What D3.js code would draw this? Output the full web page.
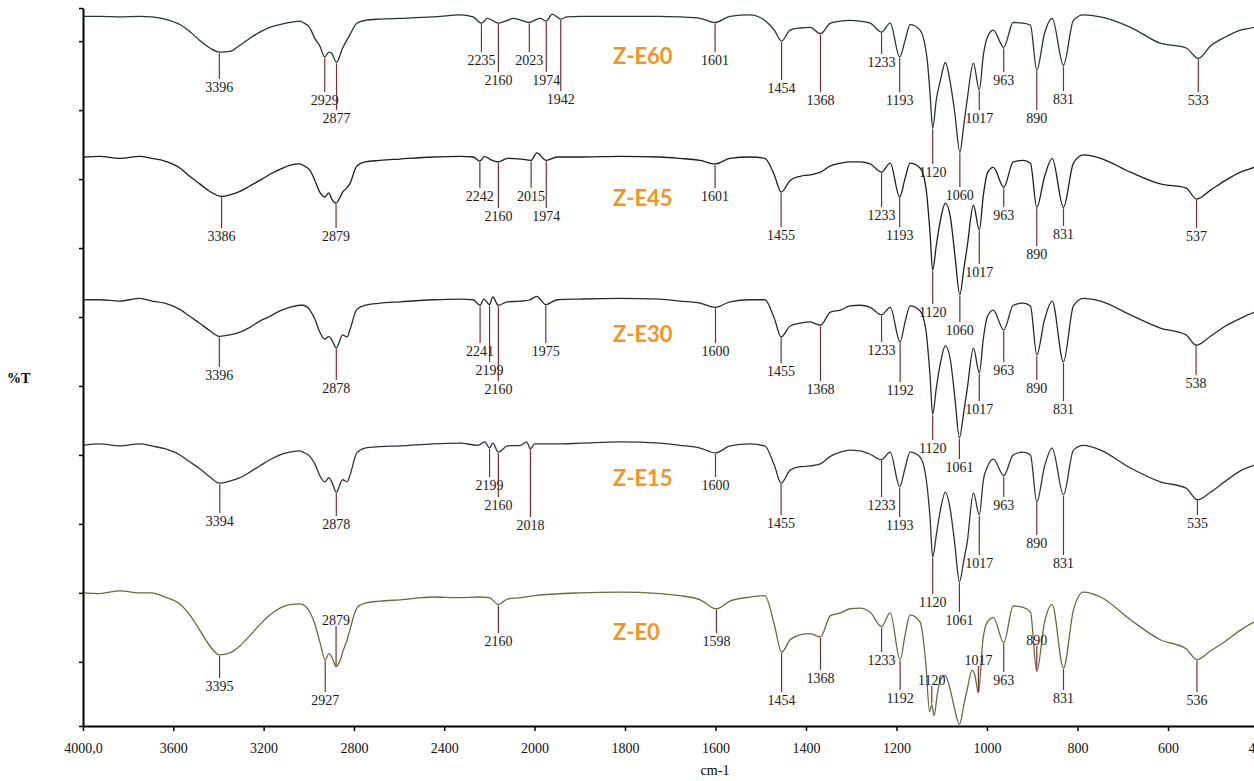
<!DOCTYPE html>
<html>
<head>
<meta charset="utf-8">
<script src="https://cdn.jsdelivr.net/npm/d3@7/dist/d3.min.js"></script>
<style>
  body { margin: 0; background: #fff; }
  svg { display: block; }
</style>
</head>
<body>
<script>

// FTIR spectra, [wavenumber cm-1, %T (stacked, arbitrary offset)]
var specE60 = [[4000,93.6],[3926,93.6],[3837,93.5],[3749,93.6],[3695,93.5],[3638,93.2],[3571,92.4],[3527,91.4],[3483,90.1],[3438,89.0],[3396,88.4],[3350,88.5],[3305,89.4],[3261,90.4],[3217,91.3],[3172,92.0],[3128,92.4],[3084,92.7],[3039,92.9],[3026,92.7],[2995,91.9],[2973,90.4],[2951,89.3],[2929,87.7],[2911,88.4],[2898,88.2],[2877,86.9],[2850,89.0],[2818,90.9],[2787,92.6],[2751,93.0],[2685,93.2],[2596,93.3],[2450,93.5],[2330,93.8],[2272,93.5],[2235,92.6],[2208,93.3],[2160,92.6],[2120,93.0],[2094,93.3],[2023,92.7],[1988,93.3],[1974,92.9],[1961,93.9],[1942,93.2],[1928,93.5],[1899,93.6],[1811,93.6],[1723,93.6],[1679,93.5],[1634,93.3],[1601,92.7],[1568,93.6],[1524,93.8],[1491,93.0],[1470,91.6],[1454,90.0],[1435,91.6],[1413,91.9],[1391,92.0],[1368,91.1],[1346,92.6],[1324,92.9],[1303,93.0],[1281,92.9],[1258,92.6],[1233,91.3],[1214,92.6],[1193,87.7],[1181,90.1],[1170,92.4],[1148,91.6],[1132,87.2],[1126,82.5],[1120,77.4],[1112,81.5],[1103,84.3],[1092,86.9],[1081,83.9],[1071,79.5],[1060,73.9],[1051,78.0],[1044,81.4],[1030,86.8],[1017,82.9],[1008,88.0],[999,90.6],[986,91.6],[963,89.1],[942,92.7],[920,92.6],[904,92.3],[890,85.8],[873,91.1],[856,93.3],[831,86.5],[809,93.0],[787,93.8],[749,93.5],[683,92.0],[617,89.7],[560,89.0],[533,87.5],[506,89.3],[473,90.6],[440,91.6],[409,92.0],[400,92.2]];

var specE45 = [[4000,73.2],[3926,73.3],[3837,73.0],[3749,73.3],[3695,73.0],[3638,72.6],[3571,71.6],[3527,70.4],[3483,69.3],[3438,68.2],[3386,67.5],[3350,67.7],[3305,68.2],[3261,69.0],[3217,69.8],[3172,70.7],[3128,71.4],[3084,72.0],[3039,72.2],[3026,72.0],[2995,71.3],[2973,69.8],[2951,68.1],[2929,67.4],[2911,68.0],[2898,67.1],[2879,66.5],[2850,68.1],[2818,69.3],[2787,71.9],[2751,72.5],[2685,72.7],[2596,72.9],[2450,73.2],[2330,73.3],[2272,73.2],[2242,72.6],[2220,73.3],[2199,72.9],[2160,72.5],[2120,73.0],[2060,72.9],[2015,72.7],[1995,73.8],[1974,72.7],[1950,73.2],[1899,73.2],[1811,73.3],[1723,73.2],[1679,73.0],[1634,72.7],[1601,72.2],[1568,73.0],[1524,73.2],[1491,73.0],[1470,70.6],[1455,68.1],[1435,69.8],[1413,70.4],[1391,70.6],[1368,71.0],[1346,71.9],[1324,72.3],[1303,72.5],[1281,72.5],[1258,72.2],[1233,71.0],[1214,72.3],[1193,67.4],[1181,70.1],[1170,72.3],[1148,71.6],[1135,68.8],[1126,62.3],[1120,56.8],[1112,60.4],[1103,64.0],[1092,66.5],[1081,64.5],[1071,59.0],[1060,53.2],[1051,57.1],[1044,60.1],[1030,66.2],[1017,62.6],[1008,67.7],[999,70.9],[986,71.7],[963,68.8],[942,72.5],[920,72.7],[904,72.3],[890,65.9],[873,70.3],[856,73.0],[831,65.9],[809,72.3],[787,73.5],[749,73.0],[683,71.0],[617,69.3],[560,68.7],[537,67.1],[506,68.4],[473,69.8],[440,71.0],[409,71.7],[400,71.9]];

var specE30 = [[4000,52.5],[3926,52.5],[3837,52.3],[3749,52.7],[3695,52.3],[3638,52.0],[3571,51.1],[3527,50.1],[3483,49.1],[3438,48.0],[3396,47.2],[3350,47.4],[3305,47.8],[3261,48.5],[3217,49.4],[3172,50.1],[3128,50.9],[3084,51.4],[3039,51.7],[3026,51.7],[2995,51.0],[2973,49.7],[2951,47.8],[2929,46.8],[2911,47.2],[2898,46.7],[2878,45.5],[2850,47.4],[2830,47.1],[2818,48.1],[2787,51.1],[2751,51.7],[2685,52.0],[2596,52.2],[2450,52.5],[2330,52.6],[2272,52.5],[2241,51.7],[2225,52.6],[2199,51.8],[2185,52.9],[2160,51.7],[2120,52.2],[2060,52.3],[2020,52.5],[1995,53.0],[1975,51.8],[1950,52.5],[1899,52.6],[1811,52.7],[1723,52.6],[1679,52.3],[1634,52.0],[1600,51.4],[1568,52.2],[1524,52.5],[1491,52.5],[1470,49.8],[1455,47.1],[1435,48.7],[1413,49.1],[1391,49.3],[1368,48.8],[1346,50.7],[1324,51.0],[1303,51.6],[1281,51.7],[1258,51.4],[1233,50.3],[1214,51.4],[1192,46.4],[1181,49.3],[1170,51.6],[1148,50.9],[1135,48.1],[1126,41.6],[1120,35.9],[1112,39.7],[1103,43.3],[1092,45.8],[1081,43.8],[1071,38.3],[1061,32.5],[1051,36.4],[1044,39.4],[1030,45.5],[1017,41.9],[1008,46.9],[999,50.1],[986,51.0],[963,48.1],[942,51.7],[920,52.0],[904,51.6],[890,44.5],[873,49.6],[856,52.3],[831,43.5],[809,51.6],[787,52.7],[749,52.3],[683,50.3],[617,48.4],[560,47.4],[538,45.9],[506,47.2],[473,48.7],[440,49.8],[409,50.7],[400,50.9]];

var specE15 = [[4000,31.4],[3926,31.6],[3837,31.3],[3749,31.6],[3695,31.3],[3638,30.9],[3571,30.0],[3527,29.0],[3483,28.0],[3438,26.8],[3394,25.9],[3350,26.2],[3305,26.7],[3261,27.5],[3217,28.4],[3172,29.3],[3128,30.0],[3084,30.4],[3039,30.6],[3026,30.4],[2995,29.8],[2973,28.7],[2951,27.0],[2929,26.1],[2911,26.7],[2898,26.1],[2878,24.6],[2850,26.4],[2830,26.1],[2818,27.0],[2787,30.3],[2751,31.0],[2685,31.2],[2596,31.3],[2450,31.6],[2330,31.7],[2250,31.4],[2220,31.9],[2199,31.0],[2185,31.7],[2160,30.4],[2120,31.3],[2060,31.4],[2035,31.9],[2018,30.9],[2000,31.6],[1950,31.6],[1899,31.7],[1811,31.9],[1723,31.7],[1679,31.4],[1634,31.0],[1600,30.3],[1568,31.3],[1524,31.6],[1491,31.3],[1470,28.5],[1455,25.9],[1435,27.8],[1413,28.3],[1391,28.4],[1368,28.7],[1346,29.8],[1324,30.4],[1303,30.7],[1281,30.6],[1258,30.1],[1233,29.3],[1214,30.4],[1193,25.4],[1181,28.1],[1170,30.4],[1148,29.7],[1135,26.8],[1126,21.0],[1120,15.2],[1112,18.4],[1103,22.0],[1092,24.6],[1081,22.0],[1071,17.0],[1061,11.6],[1051,14.8],[1044,17.2],[1030,24.5],[1017,21.3],[1008,26.4],[999,28.3],[986,29.4],[963,27.0],[942,30.0],[920,30.4],[904,30.0],[890,23.2],[873,28.3],[856,31.0],[831,24.2],[809,30.7],[787,31.4],[749,30.7],[683,28.1],[617,26.1],[560,25.2],[535,23.5],[506,24.6],[473,26.2],[440,27.7],[409,28.5],[400,28.7]];

var specE0 = [[4000,10.0],[3926,9.9],[3837,10.3],[3749,10.0],[3695,10.0],[3638,9.4],[3571,8.4],[3527,6.8],[3483,4.6],[3438,2.3],[3395,1.0],[3350,1.3],[3305,2.3],[3261,3.8],[3217,5.4],[3172,6.8],[3128,7.8],[3084,8.3],[3039,8.4],[3026,8.3],[2995,7.2],[2973,5.5],[2951,2.9],[2927,0.3],[2911,1.2],[2898,0.7],[2879,-0.7],[2860,0.3],[2850,1.4],[2830,3.2],[2818,4.6],[2787,7.8],[2751,8.5],[2685,8.8],[2596,9.0],[2450,9.4],[2330,9.3],[2250,9.4],[2200,9.3],[2160,8.3],[2120,9.1],[2060,9.3],[2000,9.6],[1899,10.0],[1811,10.1],[1723,9.9],[1679,9.6],[1634,9.0],[1598,7.7],[1568,8.8],[1524,9.4],[1491,9.6],[1470,5.4],[1454,1.4],[1435,3.2],[1413,3.9],[1391,4.1],[1368,3.6],[1346,6.7],[1324,7.1],[1303,7.7],[1281,7.8],[1258,7.2],[1233,5.1],[1214,7.1],[1192,0.3],[1181,3.9],[1170,6.8],[1148,5.8],[1135,-0.4],[1127,-7.2],[1122,-6.2],[1117,-7.8],[1110,-4.8],[1103,-2.6],[1092,-2.0],[1081,-4.1],[1071,-7.0],[1061,-9.1],[1051,-6.2],[1044,-4.1],[1033,-1.2],[1027,-1.9],[1019,-4.5],[1009,3.2],[999,5.8],[986,6.4],[963,2.8],[942,8.1],[920,7.9],[904,7.2],[890,-1.4],[873,5.7],[856,8.3],[831,-0.9],[809,7.5],[787,10.1],[749,9.4],[683,6.1],[617,3.2],[560,1.9],[536,0.3],[506,1.6],[473,3.0],[440,4.6],[409,5.8],[400,6.1]];

// labelled bands per sample
var peaksE60 = [3396, 2929, 2877, 2235, 2160, 2023, 1974, 1942, 1601, 1454, 1368, 1233, 1193, 1120, 1060, 1017, 963, 890, 831, 533];
var peaksE45 = [3386, 2879, 2242, 2160, 2015, 1974, 1601, 1455, 1233, 1193, 1120, 1060, 1017, 963, 890, 831, 537];
var peaksE30 = [3396, 2878, 2241, 2199, 2160, 1975, 1600, 1455, 1368, 1233, 1192, 1120, 1061, 1017, 963, 890, 831, 538];
var peaksE15 = [3394, 2878, 2199, 2160, 2018, 1600, 1455, 1233, 1193, 1120, 1061, 1017, 963, 890, 831, 535];
var peaksE0 = [3395, 2927, 2879, 2160, 1598, 1454, 1368, 1233, 1192, 1120, 1017, 963, 890, 831, 536];

var sampleNames = ["Z-E60", "Z-E45", "Z-E30", "Z-E15", "Z-E0"];
var xTicks = [4000, 3600, 3200, 2800, 2400, 2000, 1800, 1600, 1400, 1200, 1000, 800, 600, 400];

// layout: where each band label sits (px, label centre)
var labelYE60 = [87, 100, 118, 60, 80, 60, 80, 99, 60, 88, 100, 62, 100, 172, 195, 118, 80, 118, 99, 100];
var labelYE45 = [236, 236, 196, 216, 196, 216, 196, 235, 215, 235, 312, 330, 272, 215, 254, 234, 236];
var labelYE30 = [375, 388, 351, 370, 389, 351, 351, 371, 389, 350, 390, 448, 467, 409, 370, 388, 409, 383];
var labelYE15 = [521, 524, 485, 505, 525, 485, 523, 505, 525, 602, 620, 563, 505, 543, 563, 523];
var labelYE0 = [686, 700, 620, 641, 641, 700, 678, 660, 698, 680, 660, 680, 640, 698, 700];
var nameY = [64, 206, 342, 486, 640];
var traceColors = ["#263530", "#1e1e1e", "#2a2a2a", "#382f3c", "#6a6a3e"];

var spectra = [specE60, specE45, specE30, specE15, specE0];
var peaks = [peaksE60, peaksE45, peaksE30, peaksE15, peaksE0];
var labelYs = [labelYE60, labelYE45, labelYE30, labelYE15, labelYE0];

var W = 1254, H = 781;
var serif = "'Liberation Serif', 'Times New Roman', serif";

var svg = d3.select("body").append("svg")
    .attr("width", W)
    .attr("height", H);

// x axis changes scale at 2000 cm-1 (instrument style)
var x = d3.scaleLinear()
    .domain([4000, 2000, 400])
    .range([83, 534.5, 1258.5]);

var y = d3.scaleLinear()
    .domain([-9.3, 94.8])
    .range([726, 8]);

var line = d3.line()
    .x(function(d){ return x(d[0]); })
    .y(function(d){ return y(d[1]); })
    .curve(d3.curveMonotoneX);

spectra.forEach(function(s, i){
    svg.append("path")
        .datum(s)
        .attr("d", line)
        .attr("fill", "none")
        .attr("stroke", traceColors[i])
        .attr("stroke-width", 1.3)
        .attr("stroke-linejoin", "round");
});

function nearest(s, wn){
    var best = s[0];
    s.forEach(function(p){
        if (Math.abs(p[0] - wn) < Math.abs(best[0] - wn)) best = p;
    });
    return best;
}

// band markers + labels
peaks.forEach(function(list, i){
    var g = svg.append("g");
    list.forEach(function(wn, j){
        var p = nearest(spectra[i], wn);
        var px = x(p[0]);
        var ty = y(p[1]);
        var ly = labelYs[i][j];
        var y1, y2;
        if (ly > ty) { y1 = ty + 1; y2 = ly - 8; }
        else { y1 = ly + 6; y2 = ty - 1; }
        g.append("line")
            .attr("x1", px).attr("x2", px)
            .attr("y1", y1).attr("y2", y2)
            .attr("stroke", "#7a2e2e")
            .attr("stroke-width", 1.2);
        g.append("text")
            .attr("x", px)
            .attr("y", ly + 5)
            .attr("text-anchor", "middle")
            .attr("font-family", serif)
            .attr("font-size", 14)
            .attr("fill", "#1a1a1a")
            .text(wn);
    });
});

// sample names
sampleNames.forEach(function(n, i){
    svg.append("text")
        .attr("x", 613)
        .attr("y", nameY[i])
        .attr("font-family", "Lato, 'Open Sans', sans-serif")
        .attr("font-weight", "bold")
        .attr("font-size", 22)
        .attr("fill", "#f7941d")
        .text(n);
});

// axes
var xAxis = d3.axisBottom(x)
    .tickValues(xTicks)
    .tickSize(5)
    .tickSizeOuter(0)
    .tickPadding(12)
    .tickFormat(function(d){ return d === 4000 ? "4000,0" : d; });

var gx = svg.append("g")
    .attr("transform", "translate(0,726)")
    .call(xAxis);
gx.select(".domain").attr("stroke-width", 2);
gx.selectAll(".tick line").attr("stroke-width", 1.5);
gx.selectAll("text")
    .attr("font-family", serif)
    .attr("font-size", 14)
    .attr("fill", "#111");

var yAxis = d3.axisLeft(y)
    .tickValues([-9.3, 0, 10, 20, 30, 40, 50, 60, 70, 80, 90, 94.8])
    .tickSize(4)
    .tickSizeOuter(0)
    .tickFormat("");

var gy = svg.append("g")
    .attr("transform", "translate(83,0)")
    .call(yAxis);
gy.select(".domain").attr("stroke-width", 2);
gy.selectAll(".tick line").attr("stroke-width", 1.5);

svg.append("text")
    .attr("x", 715)
    .attr("y", 775)
    .attr("text-anchor", "middle")
    .attr("font-family", serif)
    .attr("font-size", 14)
    .text("cm-1");

svg.append("text")
    .attr("x", 7)
    .attr("y", 383)
    .attr("font-family", serif)
    .attr("font-weight", "bold")
    .attr("font-size", 14)
    .text("%T");

</script>
</body>
</html>
